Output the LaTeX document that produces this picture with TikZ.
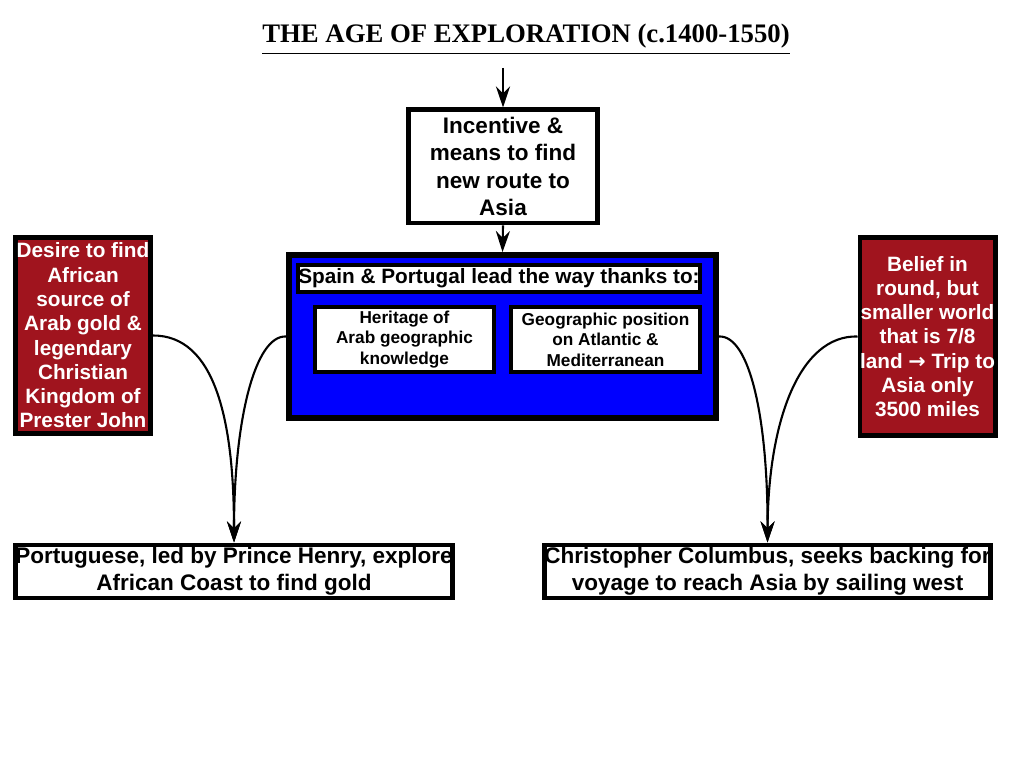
\documentclass[tikz,border=0pt]{standalone}
\usepackage{fontspec}
\setmainfont{Liberation Sans}
\newfontfamily\titlefont{Liberation Serif}
\newfontfamily\symfont{DejaVu Sans}
\usetikzlibrary{positioning}
\usetikzlibrary{arrows.meta}

\tikzset{
	whitebox/.style={draw=black,line width=1.4pt,fill=white,inner sep=0pt,align=center,font=\bfseries\fontsize{6.4}{7.7}\selectfont},
	redbox/.style={draw=black,line width=1.4pt,fill=darkred,text=white,inner sep=0pt,align=center,font=\bfseries\fontsize{5.9}{6.9}\selectfont},
	smallbox/.style={draw=black,line width=1pt,fill=white,inner sep=0pt,align=center,font=\bfseries\fontsize{4.9}{5.8}\selectfont},
	link/.style={-{Stealth[length=6pt,width=4pt]},line width=0.6pt}
}
\definecolor{darkred}{RGB}{160,20,30}

\begin{document}
\begin{tikzpicture}[x=0.01cm,y=-0.01cm]
	\useasboundingbox (0,0) rectangle (1024,768);
	
	\node[font=\titlefont\bfseries\fontsize{7.6}{9}\selectfont] (title) at (526,40) {\underline{THE AGE OF EXPLORATION (c.1400-1550)}};
	\coordinate (top) at (503,68);
	
	\node[whitebox,minimum width=1.88cm,minimum height=1.13cm] (incentive) at (503,166.5) {Incentive \&\\means to find\\new route to\\Asia};
	\draw[link] (top) -- (incentive.north);
	
	% blue panel
	\node[draw=black,line width=1.6pt,fill=blue,minimum width=4.27cm,minimum height=1.63cm,inner sep=0pt] (lead) at (502.5,336.5) {};
	\draw[link] (incentive.south) -- (lead.north);
	\node[smallbox,font=\bfseries\fontsize{5.9}{7}\selectfont,minimum width=4.02cm,minimum height=0.27cm] (thanks) at (499,278.5) {Spain \& Portugal lead the way thanks to:};
	\node[smallbox,minimum width=1.79cm,minimum height=0.65cm] (heritage) at (404.5,339.5) {Heritage of\\Arab geographic\\knowledge};
	\node[smallbox,minimum width=1.89cm,minimum height=0.65cm] (position) at (605.5,339.5) {Geographic position\\on Atlantic \&\\Mediterranean};
	
	% red side boxes
	\node[redbox,minimum width=1.34cm,minimum height=1.95cm] (desire) at (83,335.5) {Desire to find\\African\\source of\\Arab gold \&\\legendary\\Christian\\Kingdom of\\Prester John};
	\node[redbox,minimum width=1.35cm,minimum height=1.97cm] (belief) at (927.5,336.5) {Belief in\\round, but\\smaller world\\that is 7/8\\land {\symfont →} Trip to\\Asia only\\3500 miles};
	
	% outcomes
	\node[whitebox,minimum width=4.18cm,minimum height=0.53cm] (henry) at (234,571.5) {Portuguese, led by Prince Henry, explore\\African Coast to find gold};
	\node[whitebox,minimum width=4.27cm,minimum height=0.53cm] (columbus) at (767.5,571.5) {Christopher Columbus, seeks backing for\\voyage to reach Asia by sailing west};
	
	\draw[link] (desire.east) .. controls (215,335) and (234,420) .. (henry.north);
	\draw[link] (lead.west) .. controls (255,335) and (234,420) .. (henry.north);
	\draw[link] (lead.east) .. controls (750,335) and (768,420) .. (columbus.north);
	\draw[link] (belief.west) .. controls (800,335) and (768,420) .. (columbus.north);
\end{tikzpicture}
\end{document}
